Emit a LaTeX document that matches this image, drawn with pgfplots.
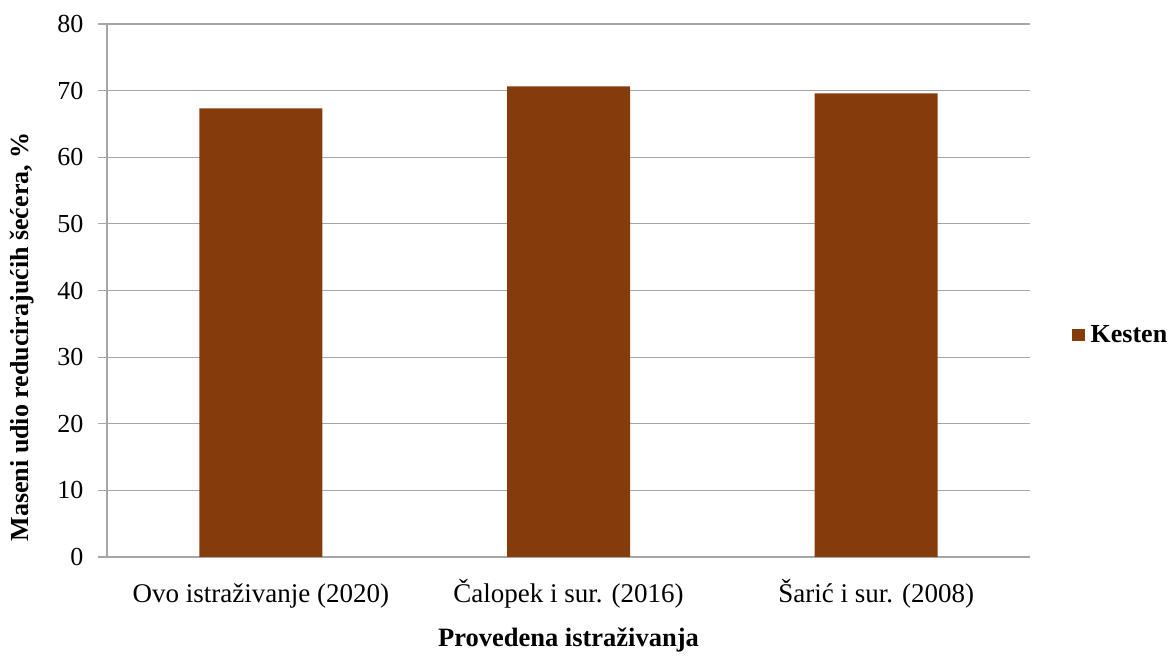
\documentclass[border=0pt]{standalone}
\usepackage{pgfplots}
\pgfplotsset{compat=1.18}
\usepackage{fontspec}
\setmainfont{Liberation Serif}
\definecolor{kesten}{RGB}{132,60,12}
\definecolor{gridgray}{RGB}{166,166,166}
\begin{document}
\begin{tikzpicture}
\begin{axis}[
  scale only axis,
  width=923bp, height=533bp,
  ymin=0, ymax=80, ytick={0,10,...,80},
  xmin=-0.5, xmax=2.5,
  xtick={0,1,2},
  xticklabels={Ovo istraživanje (2020), Čalopek i sur. (2016), Šarić i sur. (2008)},
  ybar, bar width=123bp,
  axis x line*=bottom, axis y line*=left,
  axis line style={gridgray, line width=1.2bp, -},
  ymajorgrids, major grid style={gridgray, line width=1.2bp},
  x tick style={draw=none},
  y tick style={gridgray, line width=1.2bp},
  tick align=outside, major tick length=9bp,
  tick label style={font=\fontsize{26bp}{30bp}\selectfont},
  xticklabel style={font=\fontsize{27bp}{30bp}\selectfont, text height=18bp, text depth=6bp, yshift=-15bp},
  /pgf/number format/assume math mode=true,
  yticklabel style={xshift=-11bp},
  xlabel={Provedena istraživanja},
  ylabel={Maseni udio reducirajućih šećera, \%},
  every axis x label/.style={at={(axis description cs:0.5,-0.156)}, anchor=center,
    font=\bfseries\fontsize{26.5bp}{30bp}\selectfont},
  every axis y label/.style={at={(axis description cs:-0.092,0.413)}, anchor=center, rotate=90,
    font=\bfseries\fontsize{26bp}{30bp}\selectfont},
  legend style={at={(axis description cs:1.0455,0.4165)}, anchor=west, draw=none,
    font=\bfseries\fontsize{26bp}{30bp}\selectfont, inner sep=0pt,
    /tikz/every even column/.append style={column sep=0bp}},
  legend image code/.code={\fill[#1] (0bp,-6.3bp) rectangle (12.5bp,6.3bp);},
  legend cell align=left,
]
\addplot[fill=kesten, draw=none] coordinates {(0,67.35) (1,70.65) (2,69.6)};
\addlegendentry{\hspace{4bp}Kesten}
\end{axis}
\path (current axis.south west) ++(-107bp,-97bp);
\path (current axis.north east) ++(140bp,24bp);
\end{tikzpicture}
\end{document}
